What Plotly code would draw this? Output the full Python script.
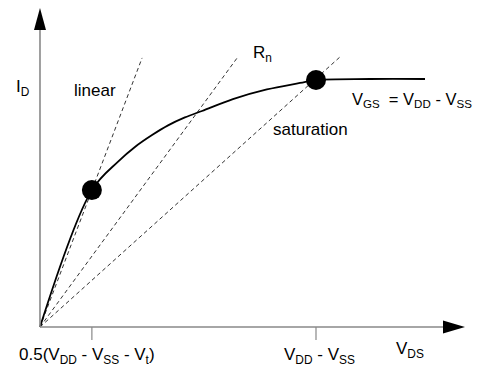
import plotly.graph_objects as go

# Data (normalised units: V_DS in units of VDD-VSS, I_D in units of saturation current)
curve_x = [0, 0.188, 0.283, 0.344, 0.406, 0.464, 0.525, 0.587, 0.699, 0.822, 0.942, 1.0, 1.196, 1.395]
curve_y = [0, 0.552, 0.667, 0.726, 0.774, 0.813, 0.845, 0.871, 0.919, 0.958, 0.984, 0.996, 1.0, 1.0]

dot_x = [0.188, 1.0]
dot_y = [0.552, 0.996]

line_names = ["linear", "Rn", "saturation"]
line_end_x = [0.370, 0.717, 1.087]
line_end_y = [1.085, 1.089, 1.089]

tick_x = [0.188, 1.0]
tick_labels = ["0.5(V<sub>DD</sub> - V<sub>SS</sub> - V<sub>t</sub>)", "V<sub>DD</sub> - V<sub>SS</sub>"]

# axis extents
X0, X1 = -0.1449, 1.6087
Y0, Y1 = -0.1734, 1.3185
px_x = (X1 - X0) / 484.0
px_y = (Y1 - Y0) / 370.0

FONT = "Liberation Sans, Arial, Helvetica, sans-serif"

fig = go.Figure()

# dashed lines
for ex, ey in zip(line_end_x, line_end_y):
    fig.add_trace(go.Scatter(x=[0, ex], y=[0, ey], mode="lines",
                             line=dict(color="#333333", width=1, dash="4px,3px"),
                             hoverinfo="skip", showlegend=False))

# curve
fig.add_trace(go.Scatter(x=curve_x, y=curve_y, mode="lines",
                         line=dict(color="black", width=1.8, shape="spline", smoothing=1.0),
                         hoverinfo="skip", showlegend=False))

# dots
fig.add_trace(go.Scatter(x=dot_x, y=dot_y, mode="markers",
                         marker=dict(color="black", size=20),
                         hoverinfo="skip", showlegend=False))

shapes = []
# axes lines
x_arrow_tip = 425 * px_x
y_arrow_tip = 319 * px_y
shapes.append(dict(type="line", x0=0, y0=0, x1=x_arrow_tip - 20 * px_x, y1=0,
                   line=dict(color="#888888", width=1.6)))
shapes.append(dict(type="line", x0=0, y0=0, x1=0, y1=y_arrow_tip - 20 * px_y,
                   line=dict(color="#888888", width=1.6)))
# arrowheads
xa = x_arrow_tip
shapes.append(dict(type="path",
                   path=f"M {xa} 0 L {xa - 22*px_x} {6.5*px_y} L {xa - 22*px_x} {-6.5*px_y} Z",
                   fillcolor="black", line=dict(width=0)))
ya = y_arrow_tip
shapes.append(dict(type="path",
                   path=f"M 0 {ya} L {-6*px_x} {ya - 22*px_y} L {6*px_x} {ya - 22*px_y} Z",
                   fillcolor="black", line=dict(width=0)))
# ticks
for tx in tick_x:
    shapes.append(dict(type="line", x0=tx, y0=0, x1=tx, y1=-13 * px_y,
                       line=dict(color="#888888", width=1.2)))

annotations = []
def label(text, x, y, xanchor="center", size=17):
    annotations.append(dict(text=text, x=x, y=y, xref="x", yref="y", showarrow=False,
                            xanchor=xanchor, yanchor="middle",
                            font=dict(family=FONT, size=size, color="black")))

def px2d(px, py):
    return (px - 40) * px_x, (327 - py) * px_y

label("I<sub>D</sub>", *px2d(23, 88))
label("linear", *px2d(95, 90))
label("R<sub>n</sub>", *px2d(263, 54))
label("saturation", *px2d(311, 129))
label("V<sub>GS</sub>  = V<sub>DD</sub> - V<sub>SS</sub>", *px2d(350, 100), xanchor="left", size=16.5)
label(tick_labels[0], *px2d(87, 356))
label(tick_labels[1], *px2d(320, 356))
label("V<sub>DS</sub>", *px2d(410, 350))

fig.update_layout(
    width=484, height=370,
    margin=dict(l=0, r=0, t=0, b=0),
    paper_bgcolor="white", plot_bgcolor="white",
    xaxis=dict(range=[X0, X1], visible=False, fixedrange=True),
    yaxis=dict(range=[Y0, Y1], visible=False, fixedrange=True),
    shapes=shapes, annotations=annotations,
    showlegend=False,
)

fig.write_html("out.html", config={"displayModeBar": False},
               post_script="document.body.style.margin='0px';document.body.style.overflow='hidden';")
